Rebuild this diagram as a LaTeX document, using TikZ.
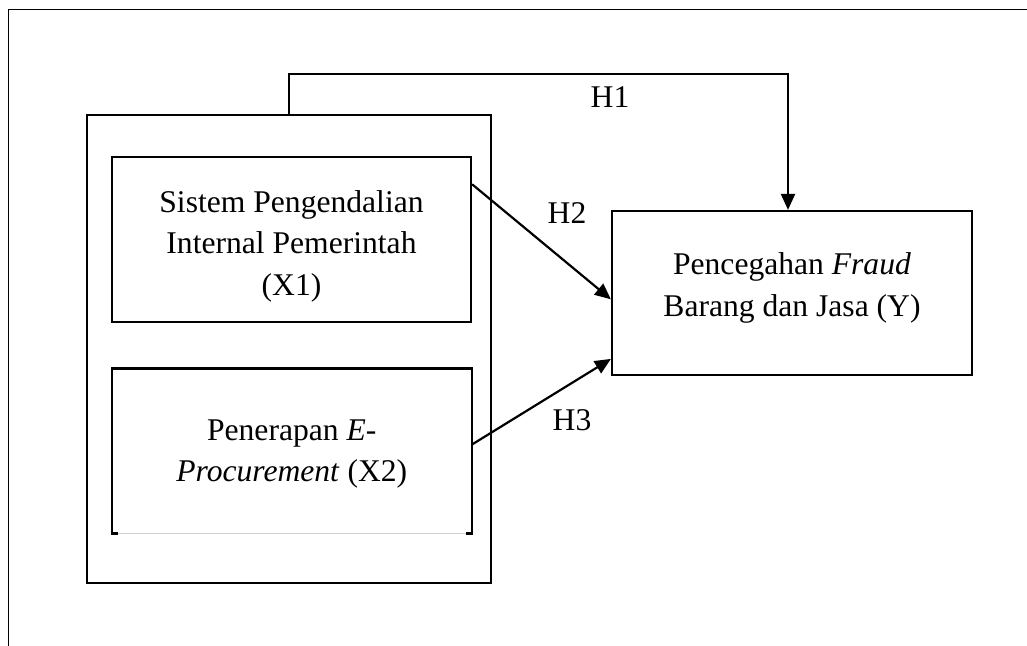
\documentclass[tikz,border=0pt]{standalone}
\usepackage{fontspec}
\setmainfont{Liberation Serif}
\usetikzlibrary{arrows.meta}

\begin{document}
\begin{tikzpicture}[x=0.5pt,y=-0.5pt]
  \tikzstyle{frame}=[draw=black, line width=1.1pt]
  \tikzstyle{var_text}=[inner sep=0pt, align=center, font=\fontsize{15.8}{20.75}\selectfont]
  \tikzstyle{hyp}=[inner sep=0pt, font=\fontsize{15.8}{18}\selectfont]
  \tikzstyle{link}=[line width=1.1pt, -{Triangle[length=8pt,width=7pt]}]

  \useasboundingbox (0,0) rectangle (1027,646);
  \draw[line width=0.7pt] (1027,9.5) -- (8.5,9.5) -- (8.5,646);

  \node (group) [frame, minimum width=202pt, minimum height=234pt] at (289,349) {};

  \node (x1) [frame, minimum width=179.5pt, minimum height=82.5pt] at (291.5,239.5) {};
  \node (x1text) [var_text] at (291.5,246) {Sistem Pengendalian\\Internal Pemerintah\\(X1)};

  \node (x2) [minimum width=179.5pt, minimum height=82pt] at (291.75,451) {};
  \node (x2text) [var_text] at (291.75,454) {Penerapan \textit{E}-\\\textit{Procurement} (X2)};
  \draw[draw=black!18, line width=0.5pt] (x2.south west) -- (x2.south east);
  \draw[frame] ([xshift=3pt]x2.south west) -- (x2.south west) -- (x2.north west)
    -- (x2.north east) -- (x2.south east) -- ([xshift=-3pt]x2.south east);

  \node (y) [frame, minimum width=180pt, minimum height=82pt] at (792,293) {};
  \node (ytext) [var_text] at (792,288) {Pencegahan \textit{Fraud}\\Barang dan Jasa (Y)};

  \coordinate (h1bend) at (788,74);
  \draw[link] (group.north) |- (h1bend) -- (h1bend |- y.north);
  \draw[link] (x1.17) -- (y.182);
  \draw[link] (x2.2) -- (y.200);

  \node (h1) [hyp] at (610,97) {H1};
  \node (h2) [hyp] at (567,213) {H2};
  \node (h3) [hyp] at (572,420) {H3};
\end{tikzpicture}
\end{document}
